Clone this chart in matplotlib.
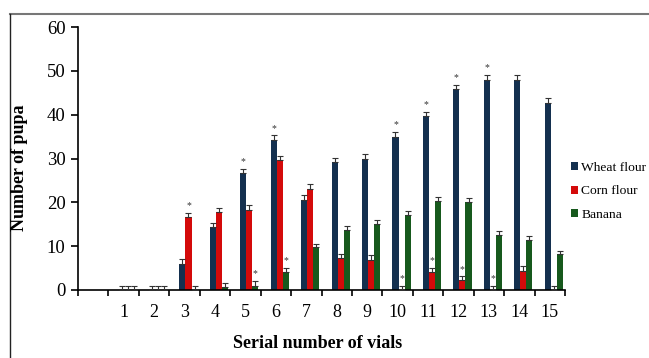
import numpy as np
import matplotlib.pyplot as plt
from matplotlib.lines import Line2D

# --- data ---
vials = ["", "1", "2", "3", "4", "5", "6", "7", "8", "9", "10", "11", "12", "13", "14", "15"]
wheat = [np.nan, 0, 0, 6.0, 14.3, 26.6, 34.3, 20.6, 29.2, 30.0, 35.0, 39.6, 45.8, 48.0, 48.0, 42.7]
corn = [np.nan, 0, 0, 16.6, 17.7, 18.3, 29.7, 23.0, 7.3, 6.9, 0, 4.0, 2.2, 0, 4.4, 0]
banana = [np.nan, 0, 0, 0, 0.6, 1.0, 4.0, 9.7, 13.7, 15.1, 17.0, 20.3, 20.0, 12.6, 11.3, 8.1]
wheat_err = [0, 0.9, 0.9, 1.1, 1.0, 1.0, 1.0, 1.0, 1.0, 1.1, 1.0, 1.0, 1.0, 1.0, 1.0, 1.0]
corn_err = [0, 0.9, 0.9, 1.0, 1.0, 1.0, 0.9, 1.1, 1.0, 1.0, 0.9, 1.0, 0.9, 0.9, 1.0, 0.9]
banana_err = [0, 0.9, 0.9, 0.9, 1.0, 1.0, 1.0, 0.9, 1.0, 0.9, 1.0, 1.0, 0.9, 0.9, 1.0, 0.9]
wheat_star = [5, 6, 10, 11, 12, 13]
corn_star = [3, 10, 11, 12, 13]
banana_star = [5, 6]

series = [
    ("Wheat flour", wheat, wheat_err, wheat_star, "#14304f"),
    ("Corn flour", corn, corn_err, corn_star, "#d40a0a"),
    ("Banana", banana, banana_err, banana_star, "#17591d"),
]

plt.rcParams["font.family"] = ["Liberation Serif", "DejaVu Serif"]

fig = plt.figure(figsize=(6.49, 3.58), dpi=100)
ax = fig.add_axes([78 / 649, 1 - 290 / 358, 487 / 649, 263 / 358])

x = np.arange(len(vials))
w = 0.2
shift = 0.13
for i, (name, vals, errs, stars, col) in enumerate(series):
    pos = x + shift + (i - 1) * w
    ax.bar(pos, vals, w, color=col, label=name, zorder=2)
    ax.errorbar(pos[1:], np.array(vals[1:]), yerr=[np.zeros(15), errs[1:]], fmt="none",
                ecolor="#333333", elinewidth=0.8, capsize=2, capthick=0.8, zorder=3)
    for s in stars:
        idx = vials.index(str(s))
        ax.text(pos[idx], vals[idx] + errs[idx] + 0.6, "*", ha="center", va="bottom",
                fontsize=7, color="#333333")

ax.set_xlim(-0.5, len(vials) - 0.5)
ax.set_ylim(0, 60)
ax.set_yticks(range(0, 61, 10))
ax.tick_params(axis="y", direction="out", length=5, width=1.2, labelsize=13.5, pad=4)
ax.set_xticks(x)
ax.set_xticklabels(vials)
ax.set_xticks(np.arange(-0.5, len(vials), 1), minor=True)
ax.tick_params(axis="x", which="major", length=0, labelsize=13, pad=10)
ax.tick_params(axis="x", which="minor", direction="out", length=4, width=1.2)
for sp in ["top", "right"]:
    ax.spines[sp].set_visible(False)
ax.spines["left"].set_linewidth(1.2)
ax.spines["bottom"].set_linewidth(1.2)

fig.text(20 / 649, 1 - 168 / 358, "Number of pupa", rotation=90, ha="center", va="center",
         fontsize=13, fontweight="bold")
fig.text(318 / 649, 1 - 344 / 358, "Serial number of vials", ha="center", va="center",
         fontsize=13, fontweight="bold")

ax.legend(loc="center left", bbox_to_anchor=(1.003, 0.375), frameon=False, fontsize=9.7,
          handlelength=0.55, handleheight=0.55, handletextpad=0.25, labelspacing=0.85,
          borderpad=0, borderaxespad=0.3)

# figure frame
fig.add_artist(Line2D([10 / 649, 1], [1 - 14 / 358, 1 - 14 / 358], color="#777777", lw=1.5))
fig.add_artist(Line2D([10 / 649, 10 / 649], [0, 1 - 14 / 358], color="#222222", lw=1))

fig.savefig("out.png", dpi=100)
